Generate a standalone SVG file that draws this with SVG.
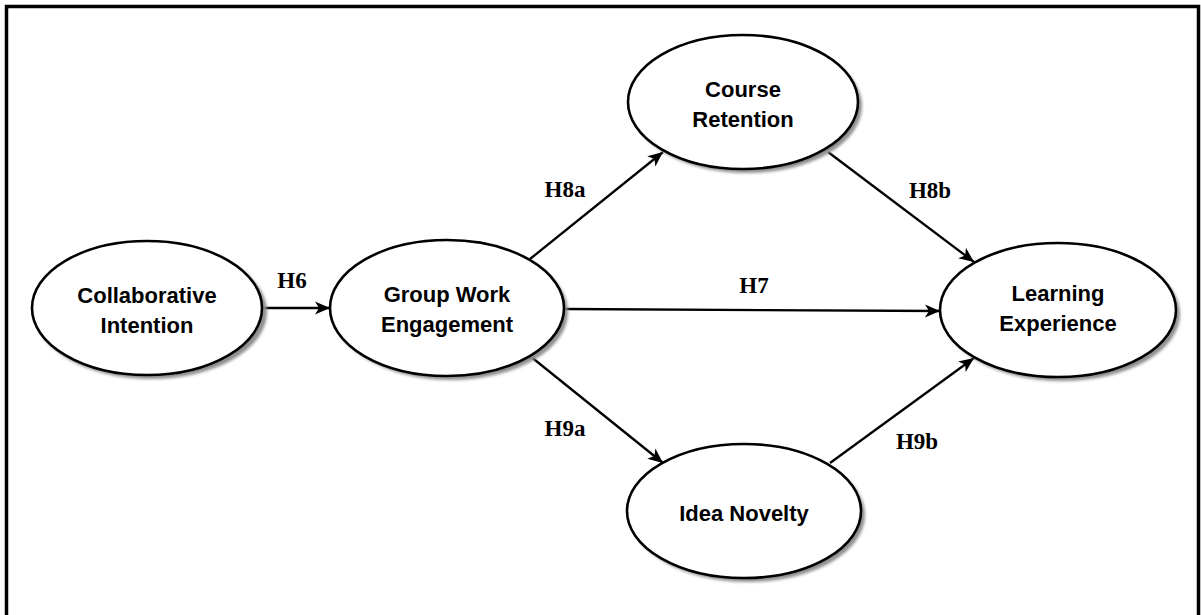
<svg xmlns="http://www.w3.org/2000/svg" width="1201" height="615" viewBox="0 0 1201 615">
<style>
.node ellipse.body{fill:#fff;stroke:#000;stroke-width:2.6}
.node ellipse.shadow{fill:#8f8f8f;stroke:none;filter:url(#blur)}
.node text{font-family:"Liberation Sans",Arial,sans-serif;font-weight:bold;font-size:22px;fill:#000;text-anchor:middle}
.edge{stroke:#000;stroke-width:2.3;fill:none;marker-end:url(#arr)}
.lbl{font-family:"Liberation Serif","Times New Roman",serif;font-weight:bold;font-size:23px;fill:#000;text-anchor:middle}
</style>
<defs>
<filter id="blur" x="-10%" y="-10%" width="120%" height="120%"><feGaussianBlur stdDeviation="1.5"/></filter>
<marker id="arr" markerUnits="userSpaceOnUse" markerWidth="16" markerHeight="14" refX="15" refY="7" orient="auto"><path d="M0,0.5 L15,7 L0,13.5 L4,7 z" fill="#000"/></marker>
</defs>
<rect x="0" y="0" width="1201" height="615" fill="#fff"/>
<rect x="6.5" y="6.5" width="1192" height="640" fill="none" stroke="#000" stroke-width="3.5"/>
<g id="connectors">
<line class="edge" x1="263" y1="308" x2="330" y2="308"/>
<line class="edge" x1="565" y1="309" x2="940" y2="311"/>
<line class="edge" x1="530" y1="259" x2="663" y2="152"/>
<line class="edge" x1="828" y1="152" x2="974" y2="262"/>
<line class="edge" x1="530" y1="356" x2="663" y2="463"/>
<line class="edge" x1="830" y1="463" x2="974" y2="358"/>
<text class="lbl" x="292" y="288">H6</text>
<text class="lbl" x="754" y="293">H7</text>
<text class="lbl" x="565" y="197">H8a</text>
<text class="lbl" x="930" y="198">H8b</text>
<text class="lbl" x="565" y="436">H9a</text>
<text class="lbl" x="917" y="449">H9b</text>
</g>
<g id="collaborative-intention" class="node">
<ellipse class="shadow" cx="151" cy="312" rx="116" ry="67"/>
<ellipse class="body" cx="147" cy="308" rx="115" ry="67"/>
<text x="147" y="303">Collaborative</text>
<text x="147" y="333">Intention</text>
</g>
<g id="group-work-engagement" class="node">
<ellipse class="shadow" cx="451" cy="312" rx="117" ry="68"/>
<ellipse class="body" cx="447" cy="308" rx="117" ry="68"/>
<text x="447" y="302">Group Work</text>
<text x="447" y="332">Engagement</text>
</g>
<g id="course-retention" class="node">
<ellipse class="shadow" cx="747" cy="106" rx="115" ry="67"/>
<ellipse class="body" cx="743" cy="102" rx="115" ry="67"/>
<text x="743" y="97">Course</text>
<text x="743" y="127">Retention</text>
</g>
<g id="idea-novelty" class="node">
<ellipse class="shadow" cx="748" cy="515" rx="117" ry="67"/>
<ellipse class="body" cx="744" cy="511" rx="117" ry="67"/>
<text x="744" y="521">Idea Novelty</text>
</g>
<g id="learning-experience" class="node">
<ellipse class="shadow" cx="1062" cy="314" rx="118" ry="67"/>
<ellipse class="body" cx="1058" cy="310" rx="118" ry="67"/>
<text x="1058" y="301">Learning</text>
<text x="1058" y="331">Experience</text>
</g>
</svg>
